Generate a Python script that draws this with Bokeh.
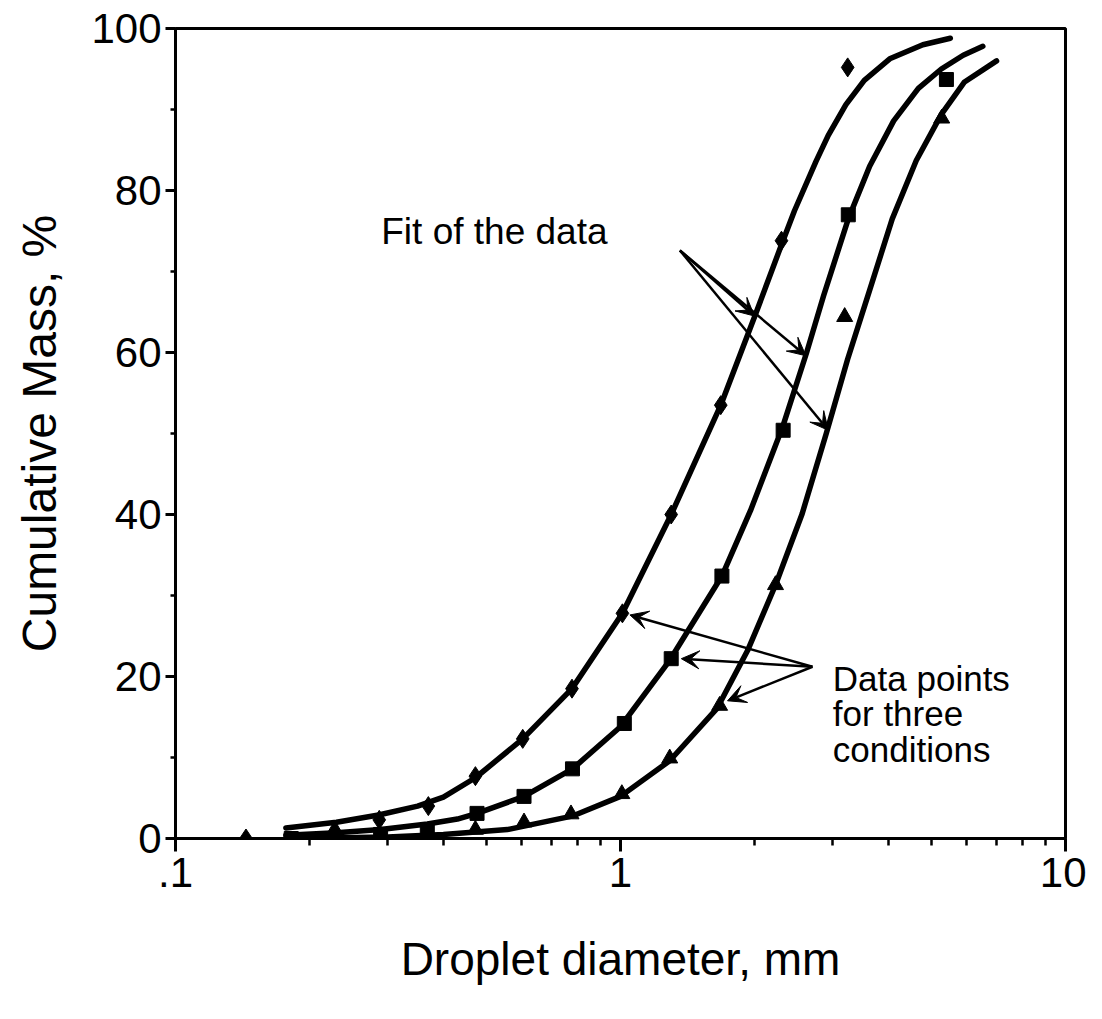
from bokeh.plotting import figure
from bokeh.models import FixedTicker, Label, Arrow, VeeHead, Range1d
from bokeh.embed import file_html
from bokeh.resources import INLINE

FONT = "Liberation Sans"

# ---- data -----------------------------------------------------------------
# condition 1 (diamonds)
diam_x = [0.144, 0.287, 0.37, 0.472, 0.603, 0.778, 1.01, 1.30, 1.68, 2.30, 3.24]
diam_y = [0.0, 2.3, 4.0, 7.7, 12.3, 18.5, 27.8, 40.0, 53.5, 73.8, 95.2]
# condition 2 (squares)
sq_x = [0.182, 0.228, 0.289, 0.368, 0.476, 0.607, 0.78, 1.02, 1.30, 1.69, 2.32, 3.25, 5.4]
sq_y = [0.0, 0.0, 0.5, 0.9, 3.1, 5.2, 8.6, 14.2, 22.2, 32.4, 50.4, 77.0, 93.7]
# condition 3 (triangles)
tri_x = [0.228, 0.472, 0.607, 0.774, 1.007, 1.29, 1.67, 2.23, 3.19, 5.27]
tri_y = [1.1, 1.1, 2.0, 3.0, 5.5, 9.9, 16.4, 31.3, 64.4, 88.9]

# fitted curves
fit1_x = [0.177, 0.23, 0.286, 0.35, 0.40, 0.472, 0.603, 0.778, 1.01, 1.30, 1.68, 2.02,
          2.30, 2.46, 2.75, 2.93, 3.21, 3.53, 4.04, 4.78, 5.51]
fit1_y = [1.3, 2.0, 2.9, 4.0, 5.1, 7.5, 12.3, 18.5, 27.8, 40.0, 53.5, 65.0,
          73.3, 77.5, 83.6, 86.8, 90.6, 93.6, 96.3, 98.0, 98.8]
fit2_x = [0.177, 0.23, 0.289, 0.368, 0.43, 0.476, 0.607, 0.78, 1.0, 1.29, 1.69,
          1.96, 2.32, 2.62, 2.86, 3.25, 3.63, 4.11, 4.67, 5.26, 5.89, 6.52]
fit2_y = [0.4, 0.7, 1.1, 1.8, 2.4, 3.1, 5.2, 8.6, 13.8, 22.0, 32.4,
          40.5, 51.0, 60.0, 67.0, 76.5, 83.0, 88.6, 92.6, 95.0, 96.7, 97.8]
fit3_x = [0.18, 0.30, 0.40, 0.557, 0.783, 1.0, 1.29, 1.65, 1.93, 2.23, 2.56,
          2.90, 3.24, 3.63, 4.08, 4.62, 5.26, 5.93, 7.0]
fit3_y = [0.0, 0.2, 0.5, 1.1, 2.8, 5.2, 9.6, 16.1, 23.2, 31.3, 40.1,
          50.0, 59.2, 67.7, 76.5, 83.7, 89.4, 93.4, 96.0]

# axes
xtick_values = [0.1, 1, 10]
xtick_labels = [".1", "1", "10"]
x_minor = [m * 10 ** e for e in (-1, 0) for m in range(2, 10)]
ytick_values = [0, 20, 40, 60, 80, 100]
y_minor = [10, 30, 50, 70, 90]

# annotations
fit_text = "Fit of the data"
fit_text_pos = (0.29, 75.0)
fit_arrow_start = (1.36, 72.6)
fit_arrow_ends = [(2.0, 64.5), (2.61, 59.6), (2.93, 50.4)]
data_text = ["Data points", "for three", "conditions"]
data_text_x = 3.0
data_text_y = [19.8, 15.4, 11.0]
data_arrow_start = (2.70, 21.2)
data_arrow_ends = [(1.05, 27.6), (1.37, 22.2), (1.74, 17.0)]

# ---- figure ----------------------------------------------------------------
p = figure(x_axis_type="log", x_range=Range1d(0.1, 10), y_range=Range1d(0, 100),
           frame_width=890, frame_height=810,
           min_border_left=175, min_border_right=21, min_border_top=28, min_border_bottom=165,
           output_backend="svg", toolbar_location=None,
           background_fill_color="white", border_fill_color="white")
p.grid.visible = False
p.outline_line_color = "black"
p.outline_line_width = 3

for ax in (p.xaxis[0], p.yaxis[0]):
    ax.axis_line_width = 3
    ax.major_tick_line_width = 3
    ax.minor_tick_line_width = 2.5
    ax.major_tick_in = 0
    ax.minor_tick_in = 0
    ax.major_label_text_font = FONT
    ax.major_label_text_font_size = "42px"
    ax.major_label_text_color = "black"
    ax.axis_label_text_font = FONT
    ax.axis_label_text_font_style = "normal"
    ax.axis_label_text_color = "black"

p.xaxis.ticker = FixedTicker(ticks=xtick_values, minor_ticks=x_minor)
p.xaxis.major_label_overrides = dict(zip(xtick_values, xtick_labels))
p.xaxis.major_tick_out = 13
p.xaxis.minor_tick_out = 7
p.xaxis.major_label_standoff = 6
p.xaxis.axis_label = "Droplet diameter, mm"
p.xaxis.axis_label_text_font_size = "46px"
p.xaxis.axis_label_standoff = 43

p.yaxis.ticker = FixedTicker(ticks=ytick_values, minor_ticks=y_minor)
p.yaxis.major_tick_out = 10
p.yaxis.minor_tick_out = 5
p.yaxis.major_label_standoff = 4
p.yaxis.axis_label = "Cumulative Mass, %"
p.yaxis.axis_label_text_font_size = "48px"
p.yaxis.axis_label_standoff = 22

# fitted curves
for fx, fy in ((fit1_x, fit1_y), (fit2_x, fit2_y), (fit3_x, fit3_y)):
    p.line(fx, fy, line_color="black", line_width=5.5, line_join="round", line_cap="round")

# data points
p.scatter(diam_x, diam_y, marker="diamond", size=19, fill_color="black", line_color="black")
p.scatter(sq_x, sq_y, marker="square", size=14, fill_color="black", line_color="black")
p.scatter(tri_x, tri_y, marker="triangle", size=16, fill_color="black", line_color="black")

# annotations
p.add_layout(Label(x=fit_text_pos[0], y=fit_text_pos[1], text=fit_text,
                   text_font=FONT, text_font_size="37px", text_color="black",
                   text_align="left", text_baseline="alphabetic"))
for ex, ey in fit_arrow_ends:
    p.add_layout(Arrow(x_start=fit_arrow_start[0], y_start=fit_arrow_start[1], x_end=ex, y_end=ey,
                       line_width=2.5, line_color="black",
                       end=VeeHead(size=18, fill_color="black", line_color="black", line_width=1)))
for t, ty in zip(data_text, data_text_y):
    p.add_layout(Label(x=data_text_x, y=ty, text=t,
                       text_font=FONT, text_font_size="35px", text_color="black",
                       text_align="left", text_baseline="alphabetic"))
for ex, ey in data_arrow_ends:
    p.add_layout(Arrow(x_start=data_arrow_start[0], y_start=data_arrow_start[1], x_end=ex, y_end=ey,
                       line_width=2.5, line_color="black",
                       end=VeeHead(size=18, fill_color="black", line_color="black", line_width=1)))

open("out.html", "w").write(file_html(p, INLINE))
